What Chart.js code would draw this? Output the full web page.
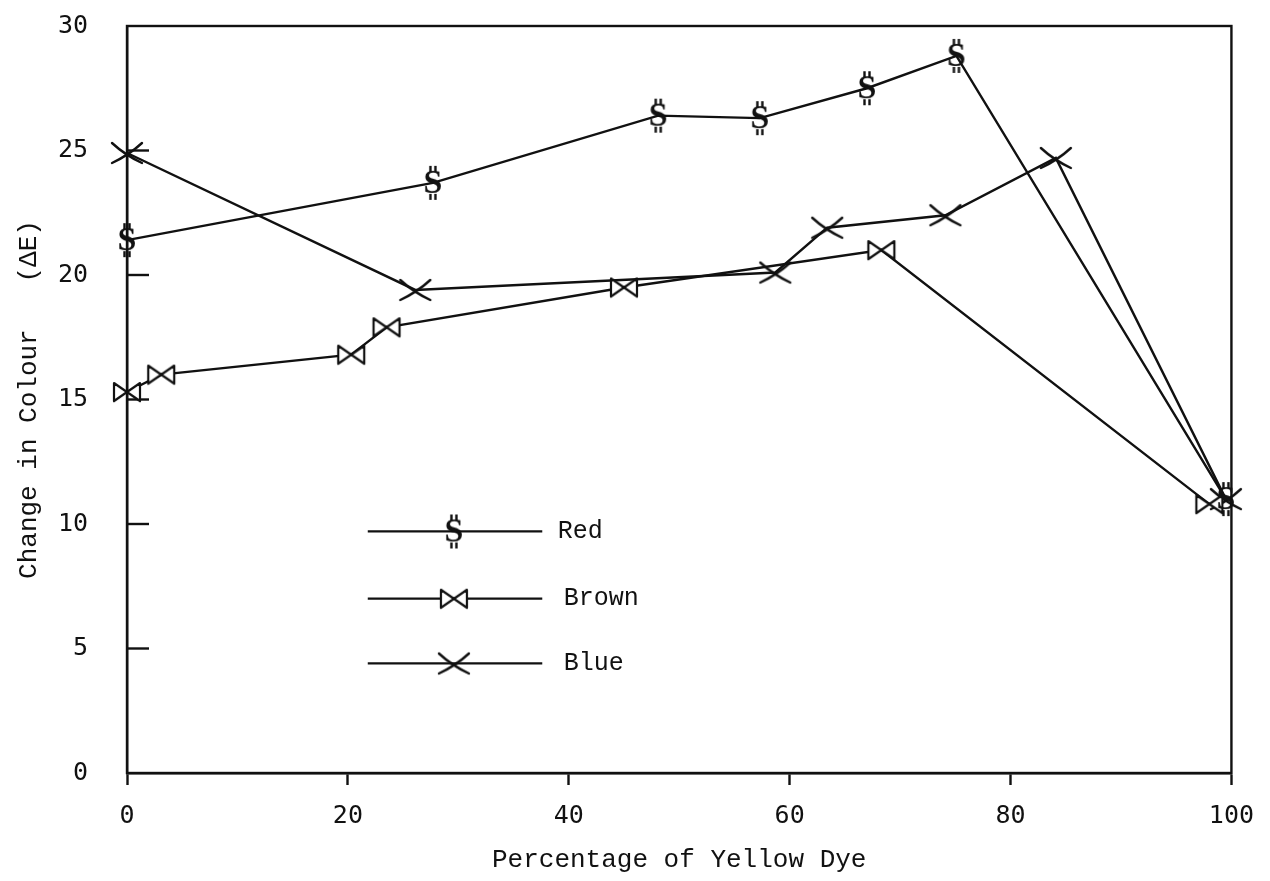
<!DOCTYPE html>
<html>
<head>
<meta charset="utf-8">
<title>Change in Colour vs Percentage of Yellow Dye</title>
<script src="https://cdn.jsdelivr.net/npm/chart.js@4.4.1/dist/chart.umd.min.js"></script>
<style>
  html, body { margin: 0; padding: 0; background: #fff; }
  #wrap { width: 1270px; height: 881px; }
</style>
</head>
<body>
<div id="wrap"><canvas id="chart" width="1270" height="881"></canvas></div>
<script>
// values
const redX = [0, 27.7, 48.1, 57.3, 67.0, 75.1, 99.5];
const redY = [21.4, 23.7, 26.4, 26.3, 27.5, 28.8, 11.0];
const brownX = [0, 3.1, 20.3, 23.5, 45.0, 68.3, 98.0];
const brownY = [15.3, 16.0, 16.8, 17.9, 19.5, 21.0, 10.8];
const blueX = [0, 26.1, 58.7, 63.4, 74.1, 84.1, 99.5];
const blueY = [24.9, 19.4, 20.1, 21.9, 22.4, 24.7, 11.0];
const xTicks = [0, 20, 40, 60, 80, 100];
const yTicks = [0, 5, 10, 15, 20, 25, 30];

const INK = '#111';

// hand-drawn looking markers
function makeDollar() {
  const c = document.createElement('canvas');
  c.width = 24; c.height = 36;
  const g = c.getContext('2d');
  g.fillStyle = INK; g.strokeStyle = INK;
  g.font = 'bold 34px "Liberation Serif"';
  g.textAlign = 'center'; g.textBaseline = 'middle';
  g.fillText('S', 12, 19);
  g.lineWidth = 2.4;
  [9.5, 14.5].forEach(px => {
    g.beginPath(); g.moveTo(px, 1); g.lineTo(px, 7); g.stroke();
    g.beginPath(); g.moveTo(px, 29); g.lineTo(px, 35); g.stroke();
  });
  return c;
}

function makeBowtie() {
  const c = document.createElement('canvas');
  c.width = 32; c.height = 24;
  const g = c.getContext('2d');
  g.lineWidth = 2.2; g.strokeStyle = INK; g.fillStyle = '#fff'; g.lineJoin = 'round';
  g.beginPath();
  g.moveTo(3, 3); g.lineTo(16, 12); g.lineTo(3, 21); g.closePath();
  g.moveTo(29, 3); g.lineTo(16, 12); g.lineTo(29, 21); g.closePath();
  g.fill(); g.stroke();
  return c;
}

function makeCross() {
  const c = document.createElement('canvas');
  c.width = 36; c.height = 26;
  const g = c.getContext('2d');
  g.lineWidth = 2.4; g.strokeStyle = INK; g.lineCap = 'round';
  g.beginPath(); g.moveTo(3, 3); g.quadraticCurveTo(16, 15, 33, 23); g.stroke();
  g.beginPath(); g.moveTo(3, 23); g.quadraticCurveTo(20, 15, 33, 3); g.stroke();
  return c;
}

const markers = { red: makeDollar(), brown: makeBowtie(), blue: makeCross() };

function series(label, xs, ys, marker) {
  return {
    label,
    data: xs.map((x, i) => ({ x, y: ys[i] })),
    borderColor: INK,
    backgroundColor: INK,
    borderWidth: 2.4,
    tension: 0,
    showLine: true,
    pointStyle: marker,
    pointRadius: 10,
    clip: false
  };
}

const paperPlugin = {
  id: 'paper',
  beforeDatasetsDraw(chart) {
    const { ctx, chartArea: a, scales: { y } } = chart;
    ctx.save();
    ctx.strokeStyle = INK;
    ctx.lineWidth = 2.4;
    ctx.strokeRect(a.left, a.top, a.right - a.left, a.bottom - a.top);
    // short tick marks drawn inward on the y axis
    yTicks.slice(1, -1).forEach(v => {
      const py = y.getPixelForValue(v);
      ctx.beginPath();
      ctx.moveTo(a.left, py);
      ctx.lineTo(a.left + 22, py);
      ctx.stroke();
    });
    ctx.restore();
  },
  afterDatasetsDraw(chart) {
    const { ctx, scales: { x, y } } = chart;
    const rows = [9.7, 7.0, 4.4];
    const imgs = [markers.red, markers.brown, markers.blue];
    ctx.save();
    ctx.strokeStyle = INK;
    ctx.fillStyle = INK;
    ctx.lineWidth = 2.2;
    ctx.font = '25px "Liberation Mono"';
    ctx.textBaseline = 'middle';
    chart.data.datasets.forEach((ds, i) => {
      const py = y.getPixelForValue(rows[i]);
      const x0 = x.getPixelForValue(21.8);
      const x1 = x.getPixelForValue(37.6);
      const xm = x.getPixelForValue(29.6);
      ctx.beginPath(); ctx.moveTo(x0, py); ctx.lineTo(x1, py); ctx.stroke();
      const img = imgs[i];
      ctx.drawImage(img, xm - img.width / 2, py - img.height / 2);
      ctx.fillText(ds.label, x.getPixelForValue(39.0) + (i ? 6 : 0), py);
    });
    ctx.restore();
  }
};

new Chart(document.getElementById('chart'), {
  type: 'scatter',
  data: {
    datasets: [
      series('Red', redX, redY, markers.red),
      series('Brown', brownX, brownY, markers.brown),
      series('Blue', blueX, blueY, markers.blue)
    ]
  },
  options: {
    responsive: false,
    animation: false,
    devicePixelRatio: 1,
    layout: { padding: { top: 26, right: 30, left: 0, bottom: 0 } },
    plugins: {
      legend: { display: false },
      tooltip: { enabled: false }
    },
    scales: {
      x: {
        type: 'linear',
        min: 0,
        max: 100,
        afterBuildTicks: s => { s.ticks = xTicks.map(v => ({ value: v })); },
        afterFit: s => { s.height = 108; },
        grid: { drawOnChartArea: false, drawTicks: true, tickLength: 12, tickColor: INK, tickWidth: 2.4 },
        border: { display: true, color: INK, width: 2.4 },
        ticks: { color: INK, padding: 16, maxRotation: 0, font: { family: '"DejaVu Sans Mono"', size: 25 } },
        title: {
          display: true,
          text: 'Percentage of Yellow Dye',
          color: INK,
          padding: { top: 15, bottom: 5 },
          font: { family: '"Liberation Mono"', size: 26 }
        }
      },
      y: {
        type: 'linear',
        min: 0,
        max: 30,
        afterBuildTicks: s => { s.ticks = yTicks.map(v => ({ value: v })); },
        afterFit: s => { s.width = 127; },
        // outer tick marks are invisible, they only push the labels away from the axis
        grid: { display: true, drawOnChartArea: false, drawTicks: true, tickLength: 35, tickColor: 'rgba(0,0,0,0)' },
        border: { display: true, color: INK, width: 2.4 },
        ticks: { color: INK, padding: 4, font: { family: '"DejaVu Sans Mono"', size: 25 } },
        title: {
          display: true,
          text: 'Change in Colour   (ΔE)',
          color: INK,
          padding: { top: 14, bottom: 0 },
          font: { family: '"Liberation Mono"', size: 26 }
        }
      }
    }
  },
  plugins: [paperPlugin]
});
</script>
</body>
</html>
